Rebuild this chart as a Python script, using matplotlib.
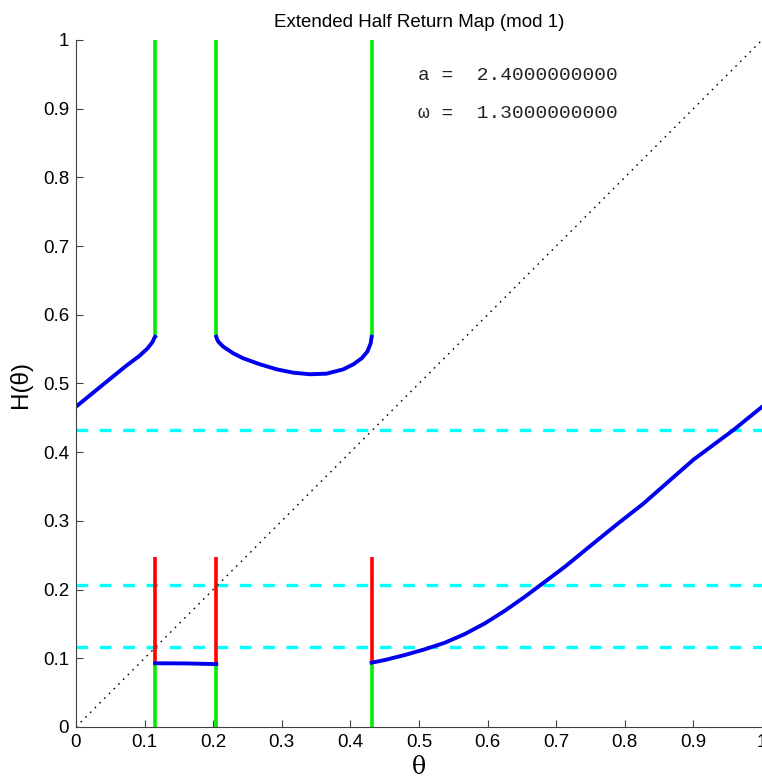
import matplotlib
matplotlib.use("Agg")
import matplotlib.pyplot as plt

# discontinuity positions (also the cyan levels)
jumps = [0.1155, 0.2045, 0.431]
levels = [0.1164, 0.2067, 0.432]

# upper branches of H
left_x = [0.0, 0.0243, 0.0486, 0.0729, 0.0923, 0.1045, 0.1118, 0.1141, 0.1155]
left_y = [0.4662, 0.4860, 0.5058, 0.5255, 0.540, 0.5512, 0.5608, 0.5660, 0.568]
mid_x = [0.2045, 0.2055, 0.2075, 0.2148, 0.2293, 0.2439, 0.2682, 0.2925, 0.3168,
         0.3411, 0.3654, 0.3897, 0.4043, 0.4164, 0.4247, 0.4296, 0.431]
mid_y = [0.568, 0.5650, 0.5608, 0.5535, 0.5439, 0.5366, 0.5279, 0.5206, 0.5157,
         0.5134, 0.5143, 0.5206, 0.5279, 0.5366, 0.5463, 0.5585, 0.568]

# lower branches of H
flat_x = [0.1155, 0.16, 0.2045]
flat_y = [0.0927, 0.0925, 0.0915]
right_x = [0.431, 0.4504, 0.4796, 0.5087, 0.5379, 0.5671, 0.5962, 0.6254, 0.6545,
           0.6837, 0.7128, 0.754, 0.7905, 0.827, 0.8634, 0.900, 0.929, 0.958, 1.0]
right_y = [0.0936, 0.0975, 0.1048, 0.1131, 0.1227, 0.1354, 0.1509, 0.1693, 0.1897,
           0.2115, 0.2333, 0.267, 0.2965, 0.325, 0.357, 0.389, 0.4105, 0.432, 0.466]

green_top = (0.568, 1.0)
green_bot = (0.0, 0.0927)
red_seg = (0.0927, 0.248)

a_val = 2.4
omega_val = 1.3

fig = plt.figure(figsize=(7.62, 7.78), dpi=100)
ax = fig.add_axes([0.0997, 0.0656, 0.9003, 0.883])

for lv in levels:
    ax.plot([0, 1], [lv, lv], color="#00ffff", lw=2.4, ls=(0, (3.5, 3.5)))

ax.plot([0, 1], [0, 1], color="k", lw=1.0, ls=(0, (1.2, 3.6)))

for x in jumps:
    ax.plot([x, x], green_top, color="#00ee00", lw=2.6, solid_capstyle="butt")
    ax.plot([x, x], green_bot, color="#00ee00", lw=2.6, solid_capstyle="butt")
    ax.plot([x, x], red_seg, color="#ff0000", lw=2.6, solid_capstyle="butt")

for xs, ys in [(left_x, left_y), (mid_x, mid_y), (flat_x, flat_y), (right_x, right_y)]:
    ax.plot(xs, ys, color="#0000ee", lw=2.8, solid_joinstyle="round")

ax.set_xlim(0, 1)
ax.set_ylim(0, 1)
ticks = [i / 10 for i in range(11)]
labels = ["0"] + ["%g" % t for t in ticks[1:-1]] + ["1"]
ax.set_xticks(ticks)
ax.set_xticklabels(labels)
ax.set_yticks(ticks)
ax.set_yticklabels(labels)
ax.tick_params(direction="in", length=5, labelsize=13.5, color="#404040", pad=5)
for lab in ax.get_xticklabels() + ax.get_yticklabels():
    lab.set_family("Liberation Sans")
ax.spines["top"].set_visible(False)
ax.spines["right"].set_visible(False)
ax.spines["left"].set_color("#404040")
ax.spines["bottom"].set_color("#404040")

fig.text(419 / 762, 1 - 768 / 778, "θ", fontsize=17, family="DejaVu Serif",
         ha="center", va="center")
fig.text(20 / 762, 1 - 384 / 778, "H(θ)", fontsize=17.5, family="Liberation Sans",
         ha="center", va="center", rotation=90)
ax.set_title("Extended Half Return Map (mod 1)", fontsize=13.5, family="Liberation Sans", pad=9)

ax.text(0.4985, 0.949, "a =  %.10f" % a_val, transform=ax.transAxes,
        fontsize=14, family="Liberation Mono", va="center", color="#222222")
ax.text(0.4985, 0.8937, "ω =  %.10f" % omega_val, transform=ax.transAxes,
        fontsize=14, family=["Liberation Mono", "DejaVu Sans"], va="center", color="#222222")

fig.savefig("out.png", dpi=100)
